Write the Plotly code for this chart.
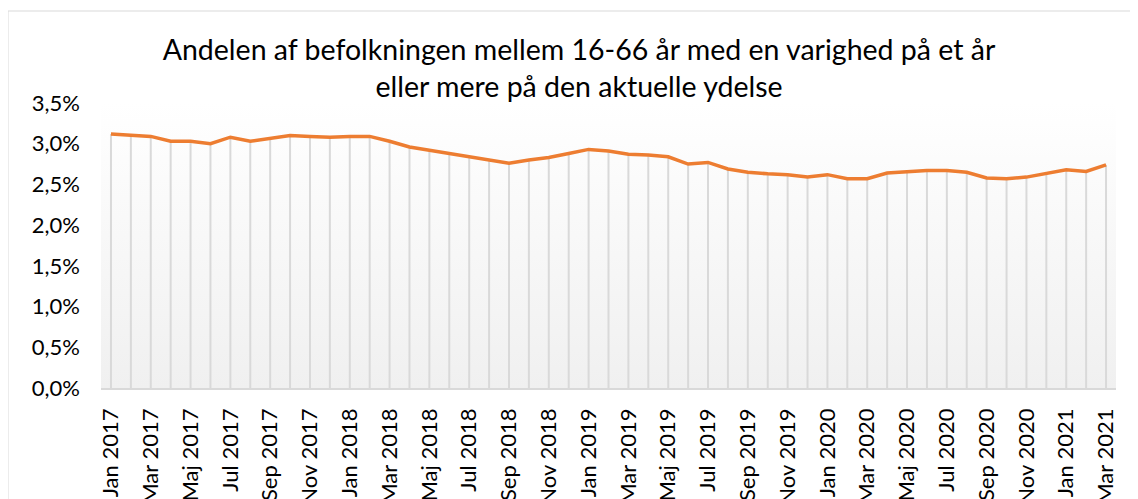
import plotly.graph_objects as go

months = ["Jan", "Feb", "Mar", "Apr", "Maj", "Jun", "Jul", "Aug", "Sep", "Okt", "Nov", "Dec"]
years = [2017, 2018, 2019, 2020, 2021]
categories = [f"{m} {y}" for y in years for m in months][:51]

values = [
    3.12, 3.11, 3.09, 3.03, 3.03, 3.00, 3.08, 3.03, 3.07, 3.10, 3.09, 3.08,
    3.09, 3.09, 3.03, 2.96, 2.92, 2.88, 2.84, 2.79, 2.76, 2.80, 2.83, 2.88,
    2.93, 2.91, 2.87, 2.86, 2.84, 2.75, 2.77, 2.69, 2.65, 2.63, 2.62, 2.59,
    2.62, 2.57, 2.57, 2.64, 2.66, 2.67, 2.67, 2.65, 2.58, 2.57, 2.59, 2.63,
    2.68, 2.66, 2.74,
]

y_ticks = [0, 0.5, 1.0, 1.5, 2.0, 2.5, 3.0, 3.5]
y_tick_text = [f"{v:.1f}".replace(".", ",") + "%" for v in y_ticks]
title_text = ("Andelen af befolkningen mellem 16-66 år med en varighed på et år"
              "<br>eller mere på den aktuelle ydelse")

FONT = "Lato"
x_idx = list(range(len(categories)))
n = len(categories)

# the page body has an 8px margin; figure is sized/offset to compensate
W, H = 1130, 491
L, R, T, B = 93, 22, 95, 111
PW, PH = W - L - R, H - T - B

fig = go.Figure()

# gradient plot background
fig.add_trace(go.Scatter(
    x=[-0.5, n - 0.5, n - 0.5, -0.5, -0.5],
    y=[0, 0, y_ticks[-1], y_ticks[-1], 0],
    fill="toself", mode="none",
    fillgradient=dict(type="vertical", colorscale=[[0, "#f0f0f0"], [1, "#ffffff"]]),
    hoverinfo="skip", showlegend=False,
))

# drop lines
fig.add_trace(go.Scatter(
    x=x_idx, y=values, mode="markers",
    marker=dict(size=0.1, color="rgba(0,0,0,0)"),
    error_y=dict(type="data", symmetric=False, array=[0] * n, arrayminus=values,
                 color="#d9d9d9", thickness=2, width=0),
    hoverinfo="skip", showlegend=False,
))

fig.add_trace(go.Scatter(
    x=x_idx, y=values, mode="lines",
    line=dict(color="#ED7D31", width=3.5),
    showlegend=False,
))

fig.update_layout(
    width=W, height=H,
    margin=dict(l=L, r=R, t=T, b=B),
    paper_bgcolor="white", plot_bgcolor="rgba(0,0,0,0)",
    font=dict(family=FONT, color="#000000", size=22),
    title=dict(text=title_text, x=571 / W, xanchor="center", y=1 - 52 / H, yanchor="top",
               font=dict(family=FONT, size=28.5, color="#000000")),
    xaxis=dict(
        range=[-0.5, n - 0.5], automargin=False,
        tickvals=x_idx[::2], ticktext=categories[::2],
        tickangle=-90, showgrid=False, zeroline=False,
        showline=True, linecolor="#d9d9d9", linewidth=1.5,
        ticks="", ticklabelstandoff=10, tickfont=dict(size=22, family=FONT),
    ),
    yaxis=dict(
        range=[0, 3.5], tickvals=y_ticks, ticktext=y_tick_text, automargin=False,
        showgrid=False, zeroline=False, showline=False,
        ticks="", ticklabelstandoff=20, tickfont=dict(size=22, family=FONT),
    ),
    shapes=[dict(type="rect", xref="paper", yref="paper",
                 x0=(0 - L) / PW, x1=(W - 2 - L) / PW,
                 y0=-0.6, y1=1 + (T - 3) / PH,
                 line=dict(color="#d9d9d9", width=1), fillcolor="rgba(0,0,0,0)",
                 layer="below")],
)

fig.write_html("out.html")
